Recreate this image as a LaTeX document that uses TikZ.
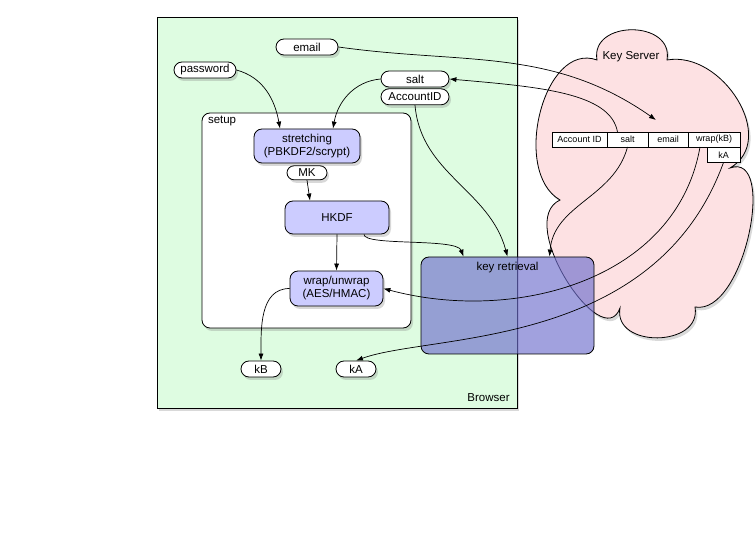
\documentclass[tikz,border=0pt]{standalone}
\usepackage{fontspec}
\setmainfont{Liberation Sans}
\usetikzlibrary{arrows.meta,shadows,positioning}
\definecolor{browsergreen}{RGB}{222,252,225}
\definecolor{serverpink}{RGB}{253,225,227}
\definecolor{stagelilac}{RGB}{204,204,255}
\definecolor{retrievalblue}{RGB}{110,110,205}
\tikzset{
  shade/.style={drop shadow={opacity=.3,shadow xshift=2pt,shadow yshift=-3pt}},
  datum/.style={draw,fill=white,rounded corners=8pt,minimum height=16pt,inner sep=1pt,shade},
  stage/.style={draw,fill=stagelilac,rounded corners=8pt,align=center,inner sep=2pt,shade},
  cell/.style={draw,fill=white,minimum height=15pt,inner sep=0pt,outer sep=0pt,font=\fontsize{9}{10}\selectfont},
  flow/.style={-{Latex[length=7pt,width=5pt]},line width=.7pt}
}

\begin{document}
\begin{tikzpicture}[
  x=1pt,y=-1pt,
  line width=.8pt,
  font=\fontsize{11.5}{13}\selectfont
]
  \useasboundingbox (0,0) rectangle (756,553);

  % browser side
  \node[draw,fill=browsergreen,minimum width=360pt,minimum height=391pt,shade] (browser) at (337,212.5) {};
  \node[anchor=south east] (browserlabel) at ([shift={(-4pt,3pt)}]browser.south east) {Browser};

  % key server cloud
  \path[draw,fill=serverpink,shade]
    (597,60) to[out=100,in=80,looseness=1.5] (667,60)
    to[out=10,in=30,looseness=1.15] (730,168)
    to[out=20,in=-10,looseness=0.9] (695,307)
    to[out=-80,in=-100,looseness=1.4] (620,308)
    to[out=-110,in=-155,looseness=1.05] (560,200)
    to[out=150,in=160] (597,60) -- cycle;
  \node (keyserver) at (631,57) {Key Server};

  % stored record
  \node[cell,minimum width=55pt] (acctcell) at (579.5,139.5) {Account ID};
  \node[cell,minimum width=41pt,right=0pt of acctcell] (saltcell) {salt};
  \node[cell,minimum width=40pt,right=0pt of saltcell] (emailcell) {email};
  \node[cell,minimum width=52pt,right=0pt of emailcell] (wrapkb) {wrap(kB)};
  \node[cell,minimum width=33pt,minimum height=15.5pt,anchor=north east] (kacell) at (wrapkb.south east) {kA};
  \coordinate (emailtip) at (656,120);

  % setup
  \node[draw,fill=white,rounded corners=8pt,minimum width=209pt,minimum height=215pt,shade] (setup) at (306.5,220.5) {};
  \node[anchor=north west,inner sep=2pt] (setuplabel) at ([shift={(4pt,-1pt)}]setup.north west) {setup};
  \node[stage,minimum width=106pt,minimum height=34pt] (stretch) at (307,146) {stretching\\(PBKDF2/scrypt)};
  \node[datum,minimum width=40pt,minimum height=14pt,rounded corners=7pt,below=2pt of stretch] (mk) {MK};
  \node[stage,minimum width=104pt,minimum height=33pt] (hkdf) at (337,217.5) {HKDF};
  \node[stage,minimum width=93pt,minimum height=35pt] (wrap) at (336.5,288.5) {wrap/unwrap\\(AES/HMAC)};

  % inputs and outputs
  \node[datum,minimum width=62pt] (email) at (307,47) {email};
  \node[datum,minimum width=62pt] (password) at (205,70) {password};
  \node[datum,minimum width=68pt] (salt) at (415,79) {salt};
  \node[datum,minimum width=68pt,below=1pt of salt] (accountid) {AccountID};
  \node[datum,minimum width=40pt] (kb) at (261,369) {kB};
  \node[datum,minimum width=40pt] (ka) at (356,369) {kA};

  % key retrieval
  \node[draw,fill=retrievalblue,fill opacity=.65,rounded corners=8pt,minimum width=173pt,minimum height=97pt] (keyret) at (507.5,305.5) {};
  \node[anchor=north,inner sep=2pt] (keyretlabel) at ([yshift=-3pt]keyret.north) {key retrieval};

  % connectors
  \draw[flow] (email.east) to[out=-8,in=145] (emailtip);
  \draw[flow] ([xshift=-10pt]saltcell.north) to[out=100,in=-5,out distance=40pt,in distance=90pt] (salt.east);
  \draw[flow] (saltcell.south) to[out=-105,in=85] ([xshift=42pt]keyret.north);
  \draw[flow] ([xshift=-14pt]wrapkb.south) to[out=-100,in=-15] (wrap.east);
  \draw[flow] (kacell.south) to[out=-110,in=20,out distance=200pt,in distance=80pt] (ka.north);
  \draw[flow] (password.east) to[out=-15,in=100] ([xshift=-27pt]stretch.north);
  \draw[flow] (salt.west) to[out=185,in=80] ([xshift=26pt]stretch.north);
  \draw[flow] (accountid.south) to[out=-85,in=105] (keyret.north);
  \draw[flow] (mk.south) -- ([xshift=-27pt]hkdf.north);
  \draw[flow] ([xshift=27pt]hkdf.south) to[out=-90,in=110,out distance=12pt,in distance=20pt] ([xshift=-44pt]keyret.north);
  \draw[flow] (hkdf.south) -- (wrap.north);
  \draw[flow] (wrap.west) to[out=180,in=90] (kb.north);
\end{tikzpicture}
\end{document}
